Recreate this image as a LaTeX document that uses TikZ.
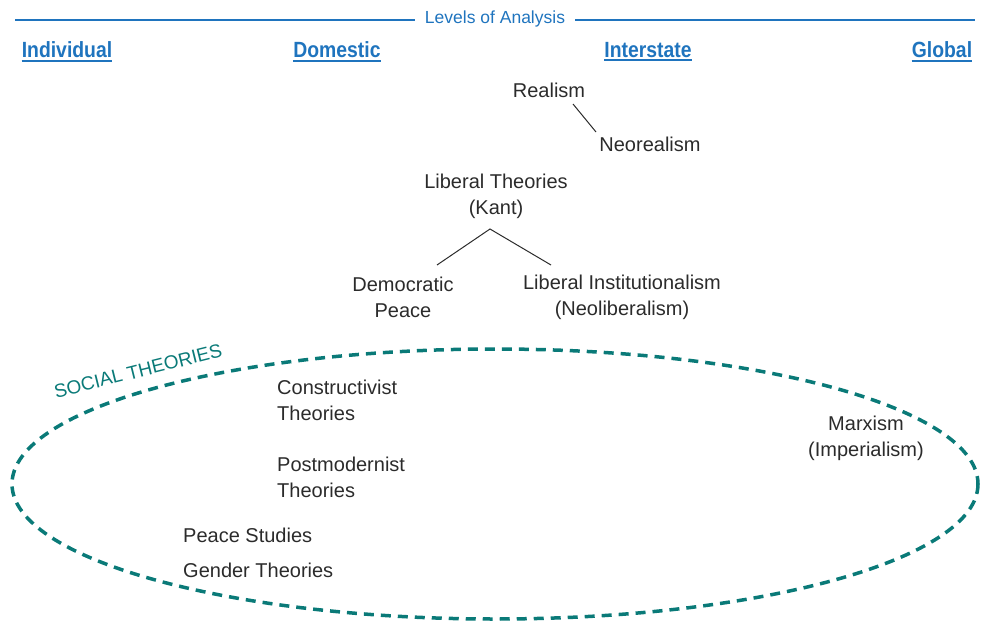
\documentclass[tikz,border=0pt]{standalone}
\usepackage{fontspec}
\setmainfont{Liberation Sans}
\newfontfamily\condfont{Liberation Sans}[FakeStretch=0.88]
\begin{document}
\begin{tikzpicture}[x=1pt,y=-1pt,
  txt/.style={text=txtgray,font=\fontsize{20}{26}\selectfont,align=center,inner sep=0pt},
  ltxt/.style={txt,align=left,anchor=west},
  lvl/.style={text=lblue,font=\condfont\fontsize{22}{26}\selectfont\bfseries,inner sep=0pt},
  uline/.style={draw=lblue,line width=2pt},
  link/.style={draw=txtgray,line width=1pt}]
\definecolor{lblue}{HTML}{1F74BE}
\definecolor{teal}{HTML}{0A7A78}
\definecolor{txtgray}{HTML}{2B2B2B}
\useasboundingbox (0,0) rectangle (985,621);
\clip (0,0) rectangle (985,621);
% header
\node[text=lblue,font=\fontsize{17.5}{20}\selectfont,inner sep=0pt] (loa) at (495,19) {Levels of Analysis};
\coordinate (hl) at (15,20);
\coordinate (hr) at (975,20);
\draw[lblue,line width=2.2pt] (hl) -- ([xshift=-10pt]loa.west |- hl);
\draw[lblue,line width=2.2pt] ([xshift=10pt]loa.east |- hr) -- (hr);
\node[lvl] (ind) at (67,50) {Individual};
\node[lvl] (dom) at (337,50) {Domestic};
\node[lvl] (int) at (648,50) {Interstate};
\node[lvl] (glo) at (942,50) {Global};
\foreach \n in {ind,dom,int,glo}{
  \draw[uline] ([yshift=-2.5pt]\n.south west) -- ([yshift=-2.5pt]\n.south east);
}
% theories
\node[txt] (real) at (549,90) {Realism};
\node[txt] (neo) at (650,144) {Neorealism};
\draw[link] (573,104) coordinate (r1) -- (596,132) coordinate (r2);
\node[txt] (lib) at (496,196) {Liberal Theories\\(Kant)};
\node[txt] (dem) at (403,297) {Democratic\\Peace};
\node[txt] (li) at (622,297) {Liberal Institutionalism\\(Neoliberalism)};
\coordinate (lb) at (490,229);
\draw[link] (437,265) coordinate (d1) -- (lb) -- (551,265) coordinate (l1);
\node[ltxt] (con) at (277,400) {Constructivist\\Theories};
\node[ltxt] (pm) at (277,477) {Postmodernist\\Theories};
\node[txt] (mar) at (866,438) {Marxism\\(Imperialism)};
\node[ltxt] (ps) at (183,535) {Peace Studies};
\node[ltxt] (gt) at (183,570) {Gender Theories};
% social theories ellipse
\draw[teal,line width=3.5pt,dash pattern=on 10pt off 7pt] (495,484) ellipse [x radius=483, y radius=135];
\node[text=teal,font=\fontsize{19}{22}\selectfont,inner sep=0pt,rotate=14] (soc) at (138,371) {SOCIAL THEORIES};
\end{tikzpicture}
\end{document}
